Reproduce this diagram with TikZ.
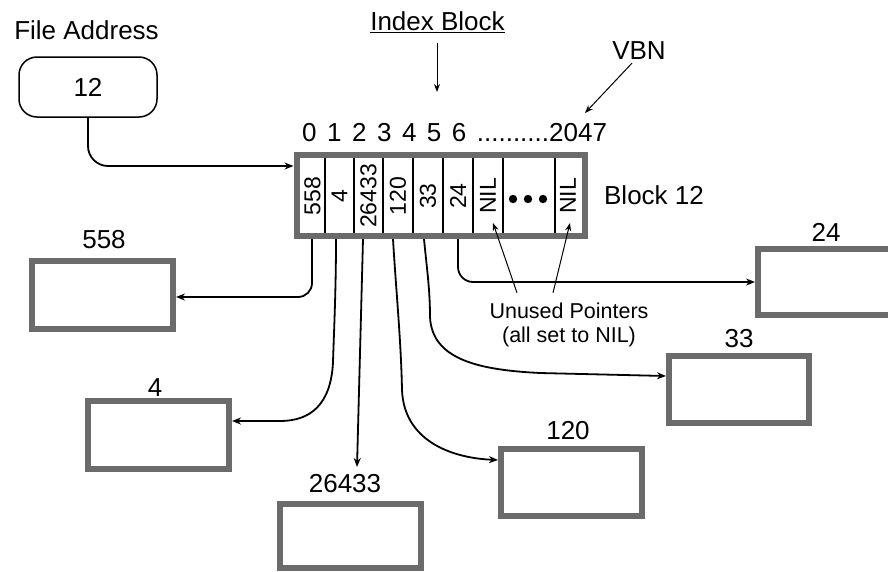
\documentclass[tikz,border=0pt]{standalone}
\usepackage{fontspec}
\setmainfont{Liberation Sans}
\usetikzlibrary{arrows.meta}
\definecolor{bordergray}{HTML}{6B6B6B}
\tikzset{
  lbl/.style={font=\fontsize{26}{30}\selectfont, inner sep=0pt},
  celltxt/.style={font=\fontsize{23}{24}\selectfont, rotate=90, inner sep=0pt},
  databox/.style={draw=bordergray, line width=6pt, fill=white, inner sep=0pt},
  conn/.style={line width=1.8pt, -{Stealth[length=9pt,width=7pt]}},
  thinarrow/.style={line width=1pt, -{Stealth[length=8pt,width=6pt]}},
  divider/.style={line width=1.6pt},
}
\begin{document}
\begin{tikzpicture}[x=1pt,y=-1pt]
\clip (0,0) rectangle (888,571);
\fill[white] (0,0) rectangle (888,571);

% titles
\node[lbl] (fatitle) at (86.5,30) {File Address};
\node[draw, line width=1.5pt, rounded corners=18pt, minimum width=138pt, minimum height=60pt, lbl] (fa) at (88,87) {12};
\node[lbl] (ib) at (437.5,22) {\underline{Index Block}};
\node[lbl] (vbn) at (639,51) {VBN};
\node[lbl, anchor=west] (idx) at (302,133) {\spaceskip=10.5pt 0 1 2 3 4 5 6 ..........2047};
\node[lbl] (b12) at (654,195) {Block 12};

% data blocks
\node[databox, minimum width=141pt, minimum height=68pt] (b558) at (102.5,295) {};
\node[lbl] (l558) at (104,240) {558};
\node[databox, minimum width=141pt, minimum height=68pt] (b4) at (158.5,435) {};
\node[lbl] (l4) at (155,388) {4};
\node[databox, minimum width=141pt, minimum height=64pt] (b26433) at (350.5,536) {};
\node[lbl] (l26433) at (345,484) {26433};
\node[databox, minimum width=141pt, minimum height=67pt] (b120) at (571.5,482.5) {};
\node[lbl] (l120) at (568,431) {120};
\node[databox, minimum width=140pt, minimum height=67pt] (b33) at (739,389.5) {};
\node[lbl] (l33) at (739,339) {33};
\node[databox, minimum width=141pt, minimum height=66pt] (b24) at (828.5,282) {};
\node[lbl] (l24) at (826,232) {24};

% connectors (drawn before the index block)
\coordinate (c1x) at (312,0);
\coordinate (c2x) at (336,0);
\coordinate (c3x) at (363,0);
\coordinate (c4x) at (393,0);
\coordinate (c5x) at (424,0);
\coordinate (c6x) at (458,0);

\node[draw=bordergray, line width=6pt, minimum width=288pt, minimum height=81pt, inner sep=0pt] (blk) at (440.5,195.5) {};

\draw[conn, rounded corners=14pt] (c1x |- blk.south) |- ([yshift=-2pt]b558.east);
\draw[conn] (c2x |- blk.south) .. controls (336,290) and (334,330) .. (333,362)
   .. controls (331,405) and (310,421) .. (280,421) -- ([yshift=14pt]b4.east);
\coordinate (t26433) at (357,467);
\draw[conn] (c3x |- blk.south) -- (t26433);
\draw[conn] (c4x |- blk.south) .. controls (396,290) and (401,340) .. (402,390)
   .. controls (404,440) and (450,458) .. ([yshift=22.5pt]b120.west);
\draw[conn] (c5x |- blk.south) .. controls (427,270) and (430,290) .. (430,317)
   .. controls (432,360) and (480,370) .. (540,373) -- ([yshift=13.5pt]b33.west);
\draw[conn, rounded corners=15pt] (c6x |- blk.south) |- (b24.west);

\draw[conn, rounded corners=20pt] (fa.south) |- ([yshift=29.5pt]blk.west);

% index block cells
\fill[white] (300,158) rectangle (581,233);
\node[draw=bordergray, line width=6pt, minimum width=288pt, minimum height=81pt, inner sep=0pt] at (440.5,195.5) {};
\foreach \xx in {325,354,383,413,443,473,503,555}
  \draw[divider] (\xx,158) -- (\xx,233);
\node[celltxt] (c1) at (312.5,196) {558};
\node[celltxt] (c2) at (339.5,196) {4};
\node[celltxt] (c3) at (368.5,196) {26433};
\node[celltxt] (c4) at (398,196) {120};
\node[celltxt] (c5) at (428,196) {33};
\node[celltxt] (c6) at (458,196) {24};
\node[celltxt] (c7) at (488,196) {NIL};
\node[celltxt] (c9) at (568,196) {NIL};
\foreach \xx in {513,528,543}
  \fill (\xx,199) circle (4.2pt);

% unused pointers
\node[font=\fontsize{21.5}{24}\selectfont, align=center, inner sep=0pt] (unused) at (569,325) {Unused Pointers\\(all set to NIL)};
\coordinate (nil1) at (493,223);
\coordinate (nil2) at (570,223);
\draw[thinarrow] ([xshift=-52pt,yshift=10pt]unused.north) -- (nil1);
\draw[thinarrow] ([xshift=-16pt,yshift=10pt]unused.north) -- (nil2);

% index block and VBN arrows
\coordinate (ibtip) at (437,92);
\draw[thinarrow] ([xshift=-0.5pt,yshift=-10pt]ib.south) -- (ibtip);
\coordinate (vtip) at (585,113);
\draw[thinarrow] ([xshift=-7pt,yshift=-3pt]vbn.south) -- (vtip);
\end{tikzpicture}
\end{document}
